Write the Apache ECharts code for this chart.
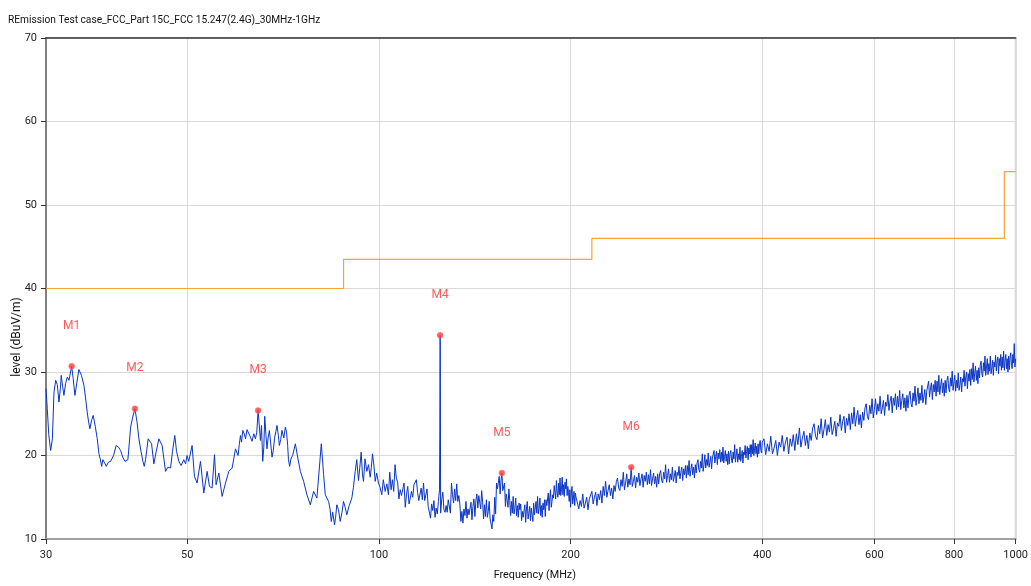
<!DOCTYPE html>
<html><head><meta charset="utf-8">
<script src="https://cdn.jsdelivr.net/npm/echarts@6/dist/echarts.min.js"></script>
<style>html,body{margin:0;padding:0;background:#fff}#c{width:1031px;height:586px}</style>
</head><body><div id="c"></div>
<script>
const chartTitle = 'REmission Test case_FCC_Part 15C_FCC 15.247(2.4G)_30MHz-1GHz';
const xTicks = [30, 50, 100, 200, 400, 600, 800, 1000];
const limitFreq = [30, 88, 88, 216, 216, 960, 960, 1000];
const limitLevel = [40, 40, 43.5, 43.5, 46, 46, 54, 54];
const markerNames = ['M1', 'M2', 'M3', 'M4', 'M5', 'M6'];
const markerFreq = [32.92, 41.38, 64.6, 124.75, 156.0, 249];
const markerLevel = [30.7, 25.6, 25.4, 34.4, 17.9, 18.6];

// 30 - 103.5 MHz trace read point by point
const lowTrace = [[30.0,28.0],[30.14,25.6],[30.3,22.5],[30.51,20.6],[30.7,22.0],[30.88,27.6],[31.07,29.0],[31.25,28.5],[31.44,26.4],[31.6,28.0],[31.7,29.6],[31.85,28.3],[32.01,27.2],[32.2,28.6],[32.4,29.4],[32.6,29.0],[32.92,30.7],[33.1,29.2],[33.31,27.2],[33.55,28.8],[33.79,30.3],[34.1,29.6],[34.41,28.4],[34.6,27.0],[34.82,25.2],[35.0,24.0],[35.16,23.2],[35.4,24.3],[35.59,24.8],[35.85,23.5],[36.11,22.0],[36.33,20.2],[36.5,19.6],[36.69,18.7],[36.85,19.5],[36.99,19.6],[37.15,19.0],[37.3,18.7],[37.6,19.2],[37.9,19.3],[38.3,20.0],[38.67,21.2],[39.0,21.0],[39.29,20.6],[39.6,19.8],[39.91,19.3],[40.1,19.4],[40.34,19.5],[40.55,21.5],[40.74,23.4],[41.05,24.6],[41.38,25.6],[41.7,24.0],[41.98,22.0],[42.3,20.5],[42.59,19.3],[42.8,18.7],[43.0,19.5],[43.41,22.0],[43.7,21.8],[43.95,21.4],[44.31,19.0],[44.7,20.5],[45.12,22.0],[45.4,21.8],[45.66,21.2],[46.22,18.1],[46.6,18.6],[47.07,18.5],[47.4,20.5],[47.8,22.4],[48.1,20.5],[48.5,19.3],[48.9,18.8],[49.38,19.5],[49.7,19.0],[49.97,20.0],
[50.27,19.3],[50.88,21.2],[51.32,17.5],[51.81,16.7],[52.45,19.3],[53.08,15.5],[53.72,18.1],[54.19,16.3],[54.7,16.1],[55.18,20.1],[55.5,16.5],[56.05,17.9],[56.72,15.1],[57.42,16.7],[58.11,18.1],[58.81,18.5],[59.53,20.8],[60.09,20.0],[60.35,21.3],[60.61,22.4],[60.85,21.6],[61.12,23.0],[61.45,22.6],[61.72,22.0],[62.07,23.1],[62.45,22.9],[62.84,22.2],[63.2,21.7],[63.59,22.6],[63.98,22.0],[64.3,22.8],[64.6,25.4],[65.15,21.8],[65.4,23.6],[65.69,19.3],[65.95,21.0],[66.17,24.7],[66.45,22.5],[66.72,20.8],[67.0,22.2],[67.3,23.0],[67.6,21.5],[67.94,19.8],[68.25,20.6],[68.6,22.2],[68.9,22.9],[69.17,23.6],[69.5,22.4],[69.77,21.2],[70.1,21.9],[70.43,23.0],[70.9,22.1],[71.3,23.4],[71.6,22.8],[71.89,21.2],[72.1,19.5],[72.41,18.7],[72.8,19.7],[73.2,20.0],[73.92,21.4],[74.62,19.6],[75.27,18.1],[76.17,16.9],[77.08,15.3],[78.03,14.1],[78.97,15.7],[79.91,14.9],[81.19,21.4],[81.87,17.7],[82.37,15.3],[83.36,14.5],[83.8,13.6],[84.17,12.1],[84.6,13.2],[85.17,11.7],[85.5,12.6],[85.88,14.1],[86.4,13.5],[86.94,12.1],[87.5,13.2],[87.98,14.5],[88.5,13.8],[89.04,12.9],[89.8,14.0],[90.66,14.9],[91.2,16.2],[91.78,18.1],[92.3,19.5],[92.88,17.0],[93.3,18.5],[93.79,20.4],[94.2,17.8],[94.57,16.9],[95.1,19.6],[95.71,18.1],[96.3,18.9],[96.89,17.4],[97.3,18.6],[97.7,20.2],[98.2,18.8],[98.66,16.9],[99.2,17.9],[99.84,16.7],[100.4,16.2],[101.04,15.3],[101.6,17.1],[102.29,15.7],[102.9,16.6],[103.5,15.3]];

// narrow emission near 125 MHz
const spikeTrace = [[124.65,23.4],[124.75,34.4],[124.85,33.1]];

// swept sections: start MHz, step MHz, levels dBuV/m
const sweepAStart = 104, sweepAStep = 0.5;
const sweepALevels = [18.0,15.9,17.1,15.7,18.9,17.3,16.8,14.8,15.9,15.2,
15.3,16.7,13.8,15.4,16.3,14.2,14.9,15.7,15.0,16.5,
16.4,17.1,15.6,14.6,14.4,16.1,14.7,16.7,14.6,15.3,
16.0,13.9,13.9,12.5,14.2,13.4,14.6,12.6,13.7,13.0,
14.5,15.9,13.1,14.7,15.6,13.5,13.2,14.0,13.2,14.7,
14.6,13.1,16.7,15.3,14.3,16.0,14.6,16.6,14.5,15.2,
14.2,12.1,13.3,11.9,13.6,12.8,14.5,12.5,13.6,12.9,
13.0,14.4,12.3,13.9,14.8,12.7,14.6,15.4,13.7,15.2,
15.1,13.6,15.8,14.4,12.4,14.1,12.7,14.7,12.6,13.3,
14.5,12.4,12.6,11.2,12.9,12.1,15.0,13.0,16.7,16.0,
16.1,17.5,15.4,17.0,17.9,15.8,15.9,16.7,13.9,15.4,
15.3,13.8,16.0,14.6,12.8,14.5,13.1,15.1,13.0,13.7,
14.9,12.8,14.0,12.6,14.3,13.5,14.2,12.2,13.3,12.6,
12.7,14.1,12.0,13.6,14.5,12.4,13.1,13.9,12.2,13.7,
13.6,12.1,14.3,12.9,12.8,14.5,13.1,15.1,13.0,13.7,
14.9,12.8,14.0,12.6,14.3,13.5,14.7,12.7,14.7,14.0,
14.1,15.5,13.4,15.0,15.9,13.8,14.5,15.3,14.9,16.4,
16.3,14.8,17.0,15.6,15.0,16.7,15.3,17.3,15.2,15.9,
17.4,15.3,16.5,15.1,16.8,16.0,17.2,15.2,16.3,15.6,
14.5,15.9,13.8,15.4,16.3,14.2,14.9,15.7,14.0,15.5,
15.0];

const sweepBStart = 205, sweepBStep = 1;
const sweepBLevels = [15.2,13.6,14.6,13.9,15.4,13.7,14.3,15.0,13.5,14.8,
14.6,15.7,14.2,15.0,15.6,14.0,15.4,14.7,15.8,14.3,
16.3,15.2,16.9,15.0,15.8,16.5,15.2,16.1,14.8,16.4,
15.7,16.9,17.3,16.1,15.8,17.1,16.3,18.0,15.9,16.7,
17.8,16.2,17.2,16.5,18.6,16.3,16.9,17.6,16.1,17.4,
16.8,17.9,16.4,17.2,17.8,16.2,17.6,16.9,18.0,16.5,
17.7,16.6,18.3,16.4,17.2,17.9,16.6,17.5,16.2,17.8,
16.6,17.8,18.2,17.0,16.7,18.0,17.2,18.9,16.8,17.6,
18.4,16.8,17.8,17.1,18.6,16.9,17.5,18.2,16.7,18.0,
17.6,18.7,17.2,18.0,18.6,17.0,18.4,17.7,18.8,17.3,
18.8,17.7,19.4,17.5,18.3,19.0,17.7,18.6,17.3,18.9,
17.9,19.1,19.5,18.3,18.0,19.3,18.5,20.2,18.1,18.9,
20.1,18.5,19.5,18.8,20.3,18.6,19.2,19.9,18.4,19.7,
19.5,20.6,19.1,19.9,20.5,18.9,20.3,19.6,20.7,19.2,
20.4,19.3,21.0,19.1,19.9,20.6,19.3,20.2,18.9,20.5,
19.0,20.2,20.6,19.4,19.1,20.4,19.6,21.3,19.2,20.0,
20.8,19.2,20.2,19.5,21.0,19.3,19.9,20.6,19.1,20.4,
20.1,21.2,19.7,20.5,21.1,19.5,20.9,20.2,21.3,19.8,
21.3,20.2,21.9,20.0,20.8,21.5,20.2,21.1,19.8,21.4,
20.2,21.4,21.8,20.6,20.3,21.6];

const sweepCStart = 402.5, sweepCStep = 2.5;
const sweepCLevels = [22.0,20.1,21.4,20.5,22.3,20.2,20.9,21.8,20.0,21.6,
21.0,22.4,20.5,21.6,22.2,20.2,22.0,21.1,22.5,20.6,
22.6,21.3,23.3,21.0,22.1,22.9,21.2,22.4,20.8,22.7,
21.8,23.3,23.8,22.3,21.9,23.6,22.6,24.4,22.1,23.1,
24.3,22.4,23.7,22.8,24.6,22.5,23.2,24.1,22.3,23.9,
23.5,24.9,23.0,24.1,24.7,22.7,24.5,23.6,25.0,23.1,
25.1,23.8,25.8,23.5,24.6,25.4,23.7,24.9,23.3,25.2,
24.2,25.7,26.2,24.7,24.3,26.0,25.0,26.8,24.5,25.5,
26.8,24.9,26.2,25.3,27.1,25.0,25.7,26.6,24.8,26.4,
25.9,27.3,25.4,26.5,27.1,25.1,26.9,26.0,27.4,25.5,
27.1,25.8,27.8,25.5,26.6,27.4,25.7,26.9,25.3,27.2,
25.7,27.2,27.7,26.2,25.8,27.5,26.5,28.3,26.0,27.0,
28.1,26.2,27.5,26.6,28.4,26.3,27.0,27.9,26.1,27.7,
27.5,28.9,27.0,28.1,28.7,26.7,28.5,27.6,29.0,27.1,
28.9,27.6,29.6,27.3,28.4,29.2,27.5,28.7,27.1,29.0,
27.5,29.0,29.5,28.0,27.6,29.3,28.3,30.1,27.8,28.8,
29.6,27.7,29.0,28.1,29.9,27.8,28.5,29.4,27.6,29.2,
28.8,30.2,28.3,29.4,30.0,28.0,29.8,28.9,30.3,28.4,
30.4,29.1,31.1,28.8,29.9,30.7,29.0,30.2,28.6,30.5,
29.3,30.8,31.3,29.8,29.4,31.1,30.1,31.9,29.6,30.6,
31.6,29.7,31.0,30.1,31.9,29.8,30.5,31.4,29.6,31.2,
30.6,32.0,30.1,31.2,31.8,29.8,31.6,30.7,32.1,30.2,
31.8,30.5,32.5,30.2,31.3,32.1,30.4,31.6,30.0,31.9,
30.3,31.8,32.3,30.8,30.4,32.1,31.1,33.4,30.6,31.6];

function sweepPairs(start, step, levels) {
  return levels.map((v, i) => [+(start + i * step).toFixed(3), v]);
}
const traceData = lowTrace
  .concat(sweepPairs(sweepAStart, sweepAStep, sweepALevels))
  .concat(spikeTrace)
  .concat(sweepPairs(sweepBStart, sweepBStep, sweepBLevels))
  .concat(sweepPairs(sweepCStart, sweepCStep, sweepCLevels))
  .sort((a, b) => a[0] - b[0]);
const limitData = limitFreq.map((f, i) => [f, limitLevel[i]]);
const markerData = markerFreq.map((f, i) => ({ name: markerNames[i], value: [f, markerLevel[i]] }));

const FONT = 'Roboto, "Open Sans", sans-serif';
const chart = echarts.init(document.getElementById('c'), null, { renderer: 'canvas' });
chart.setOption({
  animation: false,
  backgroundColor: '#fff',
  title: { text: chartTitle, left: 3, top: 10, textStyle: { fontSize: 10.2, fontWeight: 'normal', color: '#111', fontFamily: FONT } },
  grid: { left: 46, right: 12, top: 38, bottom: 44, show: true, borderColor: '#a8a8a8', borderWidth: 1.5 },
  xAxis: [{
    type: 'log', logBase: 10, min: 30, max: 1000,
    name: 'Frequency (MHz)', nameLocation: 'middle', nameGap: 31,
    nameTextStyle: { fontSize: 10.8, color: '#111', fontFamily: FONT, padding: [0, 0, 0, 8] },
    axisLine: { show: true, lineStyle: { color: '#a0a0a0', width: 2 } },
    axisTick: { show: true, customValues: xTicks, length: 5, lineStyle: { color: '#333' } },
    axisLabel: { customValues: xTicks, color: '#222', fontSize: 11, margin: 11, fontFamily: FONT, formatter: v => String(Math.round(v)) },
    splitLine: { show: true, lineStyle: { color: '#d9d9d9', width: 1 } },
    minorTick: { show: false }, minorSplitLine: { show: false }
  }, {
    type: 'log', logBase: 10, min: 30, max: 1000, position: 'top',
    axisLine: { show: true, lineStyle: { color: '#3c3c3c', width: 1.5 } },
    axisTick: { show: false }, axisLabel: { show: false }, splitLine: { show: false }
  }],
  yAxis: {
    type: 'value', min: 10, max: 70, interval: 10,
    axisLine: { show: true, lineStyle: { color: '#808080', width: 2 } },
    axisTick: { show: true, length: 5, lineStyle: { color: '#333' } },
    axisLabel: { color: '#222', fontSize: 11, margin: 9, fontFamily: FONT },
    splitLine: { show: true, lineStyle: { color: '#d9d9d9', width: 1 } }
  },
  graphic: [{
    type: 'text', x: 17, y: 337, rotation: Math.PI / 2,
    style: { text: 'level (dBuV/m)', fill: '#111', font: '12px Roboto, sans-serif', align: 'center', verticalAlign: 'middle', textAlign: 'center', textVerticalAlign: 'middle' }
  }],
  series: [{
    name: 'Limit', type: 'line', data: limitData, showSymbol: false, symbol: 'none',
    lineStyle: { color: '#f3a634', width: 1.2 }, z: 2
  }, {
    name: 'Trace', type: 'line', data: traceData, showSymbol: false, symbol: 'none', sampling: null,
    lineStyle: { color: '#0a35c6', width: 1 }, z: 3
  }, {
    name: 'Markers', type: 'scatter', data: markerData, symbol: 'circle', symbolSize: 6,
    itemStyle: { color: '#ff3b3b', borderColor: '#ff8080', borderWidth: 0.5 },
    label: { show: true, position: 'top', distance: 31, formatter: p => p.name, color: '#ff3030', fontSize: 12, fontFamily: FONT },
    z: 5
  }]
});
</script></body></html>
